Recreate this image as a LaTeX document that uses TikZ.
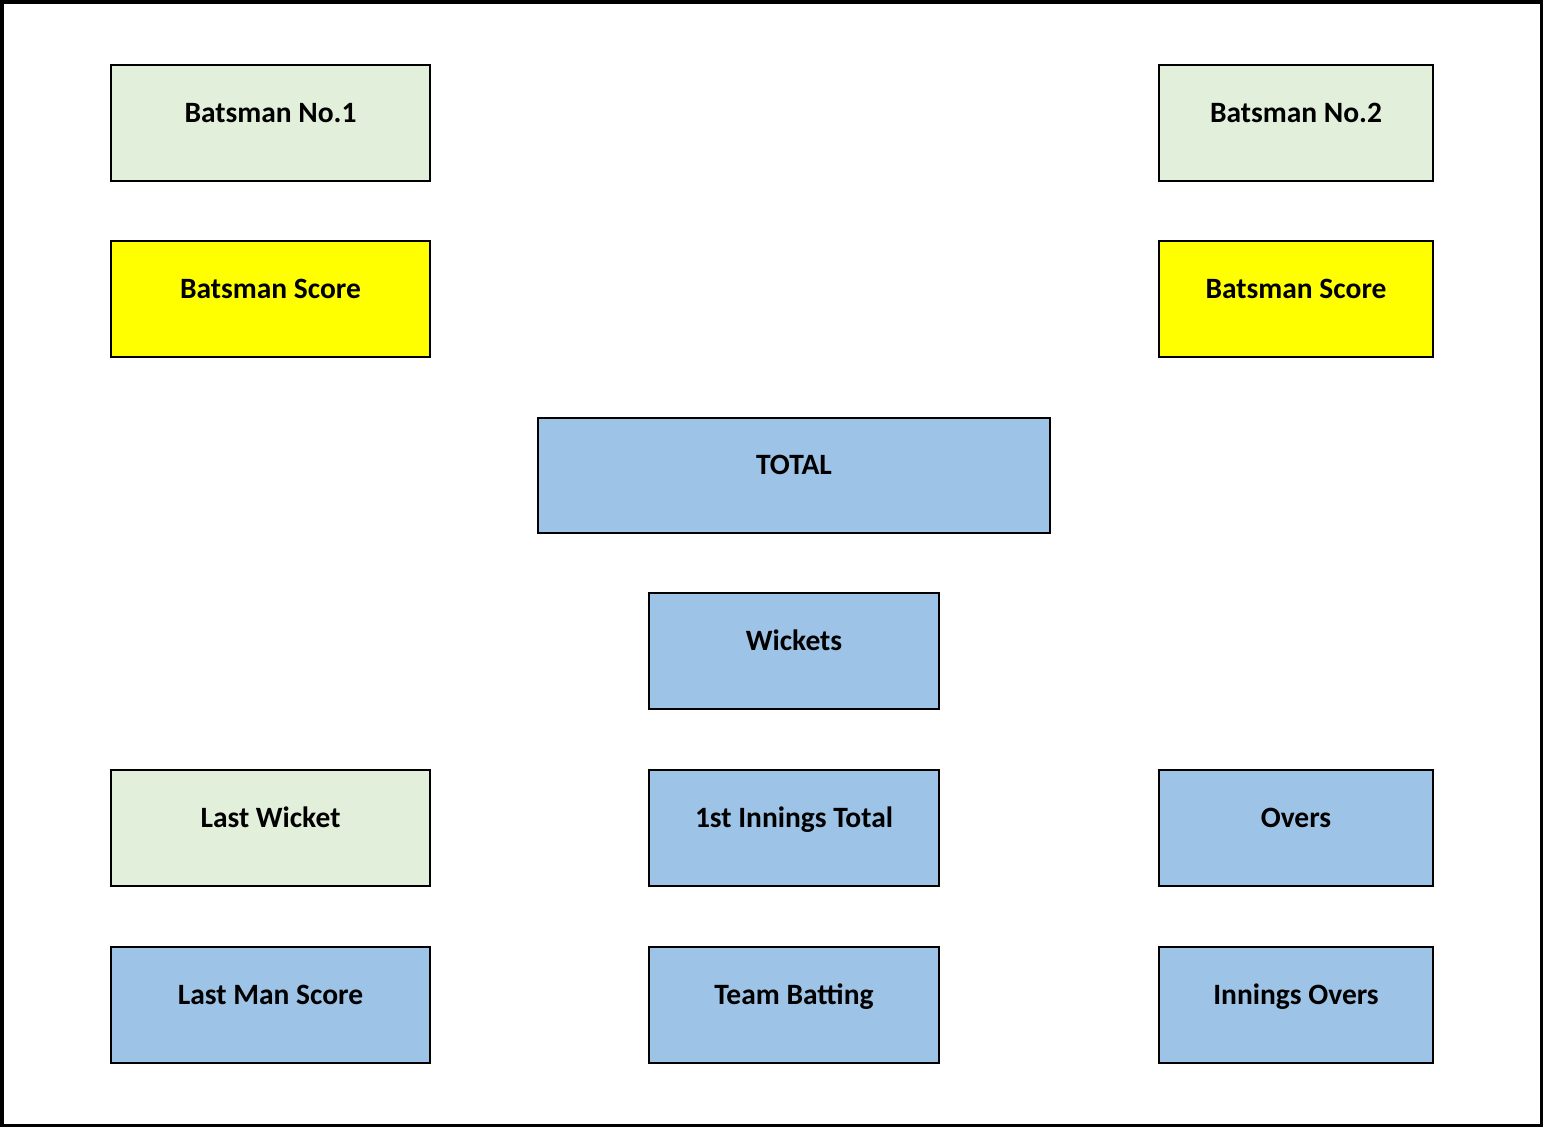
\documentclass[tikz,border=0pt]{standalone}
\usepackage{fontspec}
\setmainfont{Carlito}
\definecolor{lgreen}{RGB}{226,239,218}
\definecolor{lblue}{RGB}{157,195,230}
\definecolor{yel}{RGB}{255,255,0}
\begin{document}
\begin{tikzpicture}[x=1pt,y=-1pt,
  box/.style={draw=black, line width=2pt, inner sep=0pt, text height=0pt, text depth=2pt,
    font=\fontsize{29.5}{35}\selectfont\bfseries},
  gbox/.style={box, fill=lgreen},
  bbox/.style={box, fill=lblue},
  ybox/.style={box, fill=yel}]
\useasboundingbox (0,0) rectangle (1543,1127);
\draw[line width=3.5pt] (1.75,1.75) rectangle (1541.25,1125.25);
\node[gbox, minimum width=319pt, minimum height=116pt] (b1) at (270.5,123) {Batsman No.1};
\node[gbox, minimum width=274pt, minimum height=116pt] (b2) at (1296,123) {Batsman No.2};
\node[ybox, minimum width=319pt, minimum height=116pt] (s1) at (270.5,299) {Batsman Score};
\node[ybox, minimum width=274pt, minimum height=116pt] (s2) at (1296,299) {Batsman Score};
\node[bbox, minimum width=512pt, minimum height=115pt] (tot) at (794,475.5) {TOTAL};
\node[bbox, minimum width=290pt, minimum height=116pt] (wk) at (794,651) {Wickets};
\node[gbox, minimum width=319pt, minimum height=116pt] (lw) at (270.5,828) {Last Wicket};
\node[bbox, minimum width=290pt, minimum height=116pt] (fit) at (794,828) {1st Innings Total};
\node[bbox, minimum width=274pt, minimum height=116pt] (ov) at (1296,828) {Overs};
\node[bbox, minimum width=319pt, minimum height=116pt] (lms) at (270.5,1005) {Last Man Score};
\node[bbox, minimum width=290pt, minimum height=116pt] (tb) at (794,1005) {Team Batting};
\node[bbox, minimum width=274pt, minimum height=116pt] (io) at (1296,1005) {Innings Overs};
\end{tikzpicture}
\end{document}
